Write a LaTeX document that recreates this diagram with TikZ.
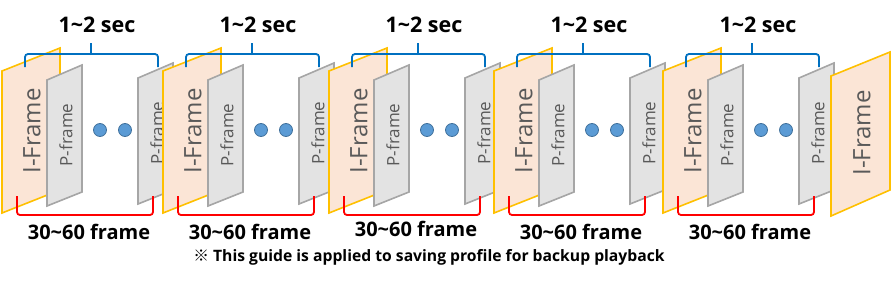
\documentclass[tikz,border=0pt]{standalone}
\usepackage{fontspec}
\setmainfont{Open Sans}
\newfontfamily\cjk{Noto Sans CJK KR}
\definecolor{iframefill}{HTML}{FBE5D6}
\definecolor{iframeline}{HTML}{FFC000}
\definecolor{pframefill}{HTML}{E3E3E3}
\definecolor{pframeline}{HTML}{A6A6A6}
\definecolor{dotfill}{HTML}{5B9BD5}
\definecolor{dotline}{HTML}{41719C}
\definecolor{secblue}{HTML}{0070C0}
\definecolor{labelgray}{HTML}{595959}
\tikzset{
  iframe/.style={fill=iframefill, draw=iframeline, line width=1.6pt},
  pframe/.style={fill=pframefill, draw=pframeline, line width=1.6pt},
  itext/.style={rotate=90, text=labelgray, font=\fontsize{24}{24}\selectfont},
  ptext/.style={rotate=90, text=labelgray, font=\fontsize{17}{17}\selectfont},
  gapdot/.style={circle, fill=dotfill, draw=dotline, line width=0.8pt, minimum size=13pt, inner sep=0pt},
  secbrace/.style={draw=secblue, line width=1.8pt, rounded corners=3pt},
  framebrace/.style={draw=red, line width=1.8pt, rounded corners=3pt},
  toplabel/.style={font=\bfseries\fontsize{21.5}{22}\selectfont},
  botlabel/.style={font=\bfseries\fontsize{20}{20}\selectfont}
}
\begin{document}
\begin{tikzpicture}[x=1pt, y=-1pt]
    \useasboundingbox (0,0) rectangle (892,281);
    % GOP groups
    \foreach \x/\ly [count=\i] in {2/232, 163/232, 329/229, 494/232, 663/232} {
        % I-frame and first P-frame
        \draw[iframe] (\x,71) -- (\x+58,48) -- (\x+58,190) -- (\x,213) -- cycle;
        \node[itext] (i\i) at (\x+30,131) {I-Frame};
        \draw[pframe] (\x+45,80) -- (\x+80,65) -- (\x+80,192) -- (\x+45,206) -- cycle;
        \node[ptext] (pa\i) at (\x+64,135) {P-frame};
        % skipped frames
        \node[gapdot] (da\i) at (\x+98,130) {};
        \node[gapdot] (db\i) at (\x+123,130) {};
        % last P-frame
        \draw[pframe] (\x+136,78) -- (\x+171,63) -- (\x+171,190) -- (\x+136,204) -- cycle;
        \node[ptext] (pb\i) at (\x+155,133) {P-frame};
    }
    % closing I-frame
    \draw[iframe] (831,76) -- (890,52) -- (890,190) -- (831,216) -- cycle;
    \node[itext] (ilast) at (862,133) {I-Frame};

    % brackets and labels
    \foreach \x/\ly [count=\i] in {2/232, 163/232, 329/229, 494/232, 663/232} {
        \draw[secbrace] (\x+23,67) -- (\x+23,54) -- (\x+156,54) -- (\x+156,67);
        \draw[secbrace] (\x+89,55) -- (\x+89,43);
        \node[toplabel] (sec\i) at (\x+95,25) {1\textasciitilde 2 sec};
        \draw[framebrace] (\x+15,196) -- (\x+15,215) -- (\x+151,215) -- (\x+151,196);
        \node[botlabel] (cnt\i) at (\x+87,\ly) {30\textasciitilde 60 frame};
    }
    \node[font=\bfseries\fontsize{15.7}{16}\selectfont] (note) at (429,257) {{\cjk ※} This guide is applied to saving profile for backup playback};
\end{tikzpicture}
\end{document}
